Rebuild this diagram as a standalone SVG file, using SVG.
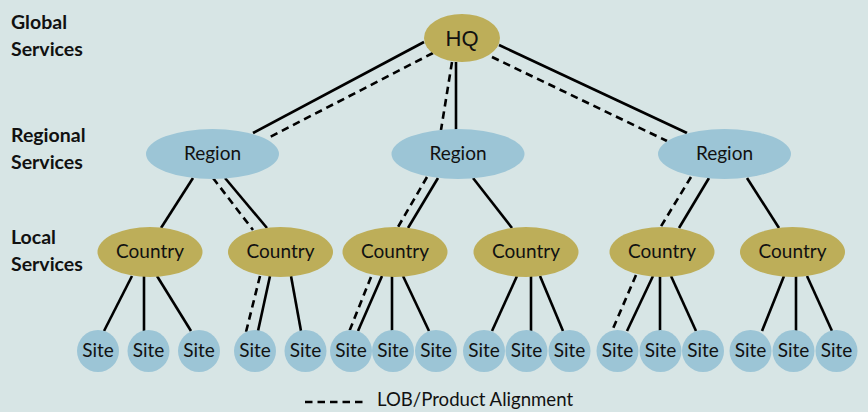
<svg xmlns="http://www.w3.org/2000/svg" width="868" height="412" viewBox="0 0 868 412">
  <style>
    .bg { fill: #d7e5e5; }
    .gold { fill: #bdae59; }
    .blue { fill: #9cc5d6; }
    .link { stroke: #000; stroke-width: 2.6; fill: none; }
    .lob { stroke: #000; stroke-width: 2.6; fill: none; stroke-dasharray: 7.5 5; }
    .lbl { font-family: Lato, "Liberation Sans", sans-serif; font-size: 19px; fill: #111; text-anchor: middle; }
    .tier { font-family: Lato, "Liberation Sans", sans-serif; font-size: 19.5px; font-weight: bold; fill: #111; }
    .hq { font-family: "Liberation Sans", Arial, sans-serif; font-size: 22px; fill: #111; text-anchor: middle; }
    .legend { font-family: Lato, "Liberation Sans", sans-serif; font-size: 18.6px; fill: #111; }
  </style>
  <rect class="bg" x="0" y="0" width="868" height="412"/>

  <!-- tier labels -->
  <g id="tier-labels">
    <text class="tier" x="11" y="29">Global</text>
    <text class="tier" x="11" y="56">Services</text>
    <text class="tier" x="11" y="142">Regional</text>
    <text class="tier" x="11" y="169">Services</text>
    <text class="tier" x="11" y="244">Local</text>
    <text class="tier" x="11" y="271">Services</text>
  </g>

  <!-- connectors -->
  <g id="connectors">
    <!-- HQ to regions -->
    <line class="link" x1="424" y1="42" x2="253" y2="133"/>
    <line class="lob" x1="433" y1="53" x2="268" y2="138"/>
    <line class="link" x1="456" y1="62" x2="456" y2="130"/>
    <line class="lob" x1="452" y1="62" x2="441" y2="130"/>
    <line class="link" x1="499" y1="45" x2="687" y2="133"/>
    <line class="lob" x1="492" y1="57" x2="667" y2="141"/>
    <!-- regions to countries -->
    <line class="link" x1="193" y1="178" x2="161" y2="228"/>
    <line class="link" x1="225" y1="178" x2="267" y2="228"/>
    <line class="lob" x1="213" y1="178" x2="253" y2="230"/>
    <line class="link" x1="438" y1="178" x2="408" y2="228"/>
    <line class="lob" x1="427" y1="177" x2="398" y2="227"/>
    <line class="link" x1="473" y1="178" x2="512" y2="228"/>
    <line class="link" x1="709" y1="178" x2="679" y2="228"/>
    <line class="lob" x1="691" y1="177" x2="660" y2="228"/>
    <line class="link" x1="747" y1="178" x2="779" y2="228"/>
    <!-- countries to sites -->
    <line class="link" x1="132" y1="276" x2="104" y2="331"/>
    <line class="link" x1="144" y1="276" x2="144" y2="331"/>
    <line class="link" x1="157" y1="276" x2="191" y2="331"/>
    <line class="lob" x1="260" y1="276" x2="246" y2="332"/>
    <line class="link" x1="270" y1="276" x2="258" y2="331"/>
    <line class="link" x1="291" y1="276" x2="301" y2="331"/>
    <line class="lob" x1="371" y1="277" x2="349" y2="332"/>
    <line class="link" x1="382" y1="276" x2="358" y2="331"/>
    <line class="link" x1="392" y1="276" x2="392" y2="331"/>
    <line class="link" x1="403" y1="276" x2="429" y2="331"/>
    <line class="link" x1="517" y1="276" x2="492" y2="331"/>
    <line class="link" x1="531" y1="276" x2="531" y2="331"/>
    <line class="link" x1="540" y1="276" x2="563" y2="331"/>
    <line class="lob" x1="636" y1="275" x2="612" y2="331"/>
    <line class="link" x1="653" y1="276" x2="627" y2="331"/>
    <line class="link" x1="660" y1="276" x2="660" y2="331"/>
    <line class="link" x1="671" y1="276" x2="696" y2="331"/>
    <line class="link" x1="784" y1="276" x2="762" y2="331"/>
    <line class="link" x1="796" y1="276" x2="796" y2="331"/>
    <line class="link" x1="807" y1="276" x2="832" y2="331"/>
  </g>

  <!-- global -->
  <g id="hq">
    <ellipse class="gold" cx="462" cy="38" rx="38" ry="24"/>
    <text class="hq" x="462" y="46">HQ</text>
  </g>

  <!-- regional -->
  <g id="region-1">
    <ellipse class="blue" cx="212.5" cy="154" rx="66.5" ry="25"/>
    <text class="lbl" x="212.5" y="160">Region</text>
  </g>
  <g id="region-2">
    <ellipse class="blue" cx="458" cy="154" rx="66.5" ry="25"/>
    <text class="lbl" x="458" y="160">Region</text>
  </g>
  <g id="region-3">
    <ellipse class="blue" cx="724.5" cy="154" rx="66.5" ry="25"/>
    <text class="lbl" x="724.5" y="160">Region</text>
  </g>

  <!-- local -->
  <g id="country-1">
    <ellipse class="gold" cx="150" cy="252" rx="52.5" ry="25"/>
    <text class="lbl" x="150" y="258">Country</text>
  </g>
  <g id="country-2">
    <ellipse class="gold" cx="280.5" cy="252" rx="52.5" ry="25"/>
    <text class="lbl" x="280.5" y="258">Country</text>
  </g>
  <g id="country-3">
    <ellipse class="gold" cx="395" cy="252" rx="52.5" ry="25"/>
    <text class="lbl" x="395" y="258">Country</text>
  </g>
  <g id="country-4">
    <ellipse class="gold" cx="526" cy="252" rx="52.5" ry="25"/>
    <text class="lbl" x="526" y="258">Country</text>
  </g>
  <g id="country-5">
    <ellipse class="gold" cx="662" cy="252" rx="52.5" ry="25"/>
    <text class="lbl" x="662" y="258">Country</text>
  </g>
  <g id="country-6">
    <ellipse class="gold" cx="792.5" cy="252" rx="52.5" ry="25"/>
    <text class="lbl" x="792.5" y="258">Country</text>
  </g>

  <!-- sites -->
  <g id="site-1"><circle class="blue" cx="98" cy="351" r="21"/><text class="lbl" x="98" y="357">Site</text></g>
  <g id="site-2"><circle class="blue" cx="148.5" cy="351" r="21"/><text class="lbl" x="148.5" y="357">Site</text></g>
  <g id="site-3"><circle class="blue" cx="199" cy="351" r="21"/><text class="lbl" x="199" y="357">Site</text></g>
  <g id="site-4"><circle class="blue" cx="255" cy="351" r="21"/><text class="lbl" x="255" y="357">Site</text></g>
  <g id="site-5"><circle class="blue" cx="305.5" cy="351" r="21"/><text class="lbl" x="305.5" y="357">Site</text></g>
  <g id="site-6"><circle class="blue" cx="351" cy="351" r="21"/><text class="lbl" x="351" y="357">Site</text></g>
  <g id="site-7"><circle class="blue" cx="393" cy="351" r="21"/><text class="lbl" x="393" y="357">Site</text></g>
  <g id="site-8"><circle class="blue" cx="436" cy="351" r="21"/><text class="lbl" x="436" y="357">Site</text></g>
  <g id="site-9"><circle class="blue" cx="484" cy="351" r="21"/><text class="lbl" x="484" y="357">Site</text></g>
  <g id="site-10"><circle class="blue" cx="526.5" cy="351" r="21"/><text class="lbl" x="526.5" y="357">Site</text></g>
  <g id="site-11"><circle class="blue" cx="569.5" cy="351" r="21"/><text class="lbl" x="569.5" y="357">Site</text></g>
  <g id="site-12"><circle class="blue" cx="617.5" cy="351" r="21"/><text class="lbl" x="617.5" y="357">Site</text></g>
  <g id="site-13"><circle class="blue" cx="660.5" cy="351" r="21"/><text class="lbl" x="660.5" y="357">Site</text></g>
  <g id="site-14"><circle class="blue" cx="703" cy="351" r="21"/><text class="lbl" x="703" y="357">Site</text></g>
  <g id="site-15"><circle class="blue" cx="750.5" cy="351" r="21"/><text class="lbl" x="750.5" y="357">Site</text></g>
  <g id="site-16"><circle class="blue" cx="793.5" cy="351" r="21"/><text class="lbl" x="793.5" y="357">Site</text></g>
  <g id="site-17"><circle class="blue" cx="836.5" cy="351" r="21"/><text class="lbl" x="836.5" y="357">Site</text></g>

  <!-- legend -->
  <g id="legend">
    <line class="lob" x1="305" y1="402" x2="363" y2="402"/>
    <text class="legend" x="377" y="406">LOB/Product Alignment</text>
  </g>
</svg>
